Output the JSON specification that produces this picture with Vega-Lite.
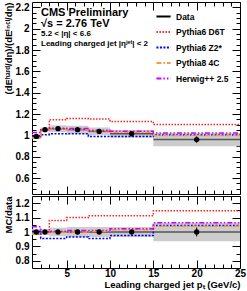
{
  "$schema": "https://vega.github.io/schema/vega-lite/v6.json",
  "background": "white",
  "padding": {"left": 2, "top": 1, "right": 5, "bottom": 1},
  "spacing": 0,
  "config": {
    "view": {"stroke": "black", "strokeWidth": 1},
    "axis": {"labelFont": "Liberation Sans", "titleFont": "Liberation Sans", "labelFontWeight": "bold", "titleFontWeight": "bold", "labelColor": "black", "titleColor": "black", "tickColor": "black", "grid": false, "labelFontSize": 10, "titleFontSize": 9.5, "domain": false, "tickWidth": 1, "labelOverlap": false, "labelFlush": false, "labelBound": false}
  },
  "datasets": {
    "bins": [
      {"lo": 1, "hi": 2, "x": 1.5, "y": 0.99, "errLo": 0.982, "errHi": 0.998, "bandLo": 0.970, "bandHi": 1.010, "ry": 1, "rErrLo": 0.992, "rErrHi": 1.008, "rBandLo": 0.98, "rBandHi": 1.02},
      {"lo": 2, "hi": 3, "x": 2.5, "y": 1.053, "errLo": 1.045, "errHi": 1.061, "bandLo": 1.032, "bandHi": 1.074, "ry": 1, "rErrLo": 0.992, "rErrHi": 1.008, "rBandLo": 0.98, "rBandHi": 1.02},
      {"lo": 3, "hi": 5, "x": 4, "y": 1.062, "errLo": 1.054, "errHi": 1.070, "bandLo": 1.030, "bandHi": 1.094, "ry": 1, "rErrLo": 0.992, "rErrHi": 1.008, "rBandLo": 0.97, "rBandHi": 1.03},
      {"lo": 5, "hi": 7.5, "x": 6.25, "y": 1.053, "errLo": 1.045, "errHi": 1.061, "bandLo": 1.016, "bandHi": 1.090, "ry": 1, "rErrLo": 0.992, "rErrHi": 1.008, "rBandLo": 0.965, "rBandHi": 1.035},
      {"lo": 7.5, "hi": 10, "x": 8.75, "y": 1.037, "errLo": 1.027, "errHi": 1.047, "bandLo": 1.001, "bandHi": 1.073, "ry": 1, "rErrLo": 0.99, "rErrHi": 1.01, "rBandLo": 0.965, "rBandHi": 1.035},
      {"lo": 10, "hi": 15, "x": 12.5, "y": 1.015, "errLo": 1.003, "errHi": 1.027, "bandLo": 0.979, "bandHi": 1.051, "ry": 1, "rErrLo": 0.988, "rErrHi": 1.012, "rBandLo": 0.965, "rBandHi": 1.035},
      {"lo": 15, "hi": 25, "x": 20, "y": 0.96, "errLo": 0.93, "errHi": 0.99, "bandLo": 0.898, "bandHi": 1.022, "ry": 1, "rErrLo": 0.969, "rErrHi": 1.031, "rBandLo": 0.935, "rBandHi": 1.065}
    ],
    "mc": [
      {"series": "Pythia6 D6T", "x": 1, "top": 0.975, "ratio": 0.985},
      {"series": "Pythia6 D6T", "x": 2, "top": 1.053, "ratio": 1.0},
      {"series": "Pythia6 D6T", "x": 3, "top": 1.147, "ratio": 1.08},
      {"series": "Pythia6 D6T", "x": 5, "top": 1.158, "ratio": 1.10},
      {"series": "Pythia6 D6T", "x": 7.5, "top": 1.154, "ratio": 1.113},
      {"series": "Pythia6 D6T", "x": 10, "top": 1.130, "ratio": 1.113},
      {"series": "Pythia6 D6T", "x": 15, "top": 1.102, "ratio": 1.148},
      {"series": "Pythia6 D6T", "x": 25, "top": 1.102, "ratio": 1.148},
      {"series": "Pythia6 Z2*", "x": 1, "top": 0.995, "ratio": 1.005},
      {"series": "Pythia6 Z2*", "x": 2, "top": 1.006, "ratio": 0.955},
      {"series": "Pythia6 Z2*", "x": 3, "top": 1.014, "ratio": 0.955},
      {"series": "Pythia6 Z2*", "x": 5, "top": 1.016, "ratio": 0.965},
      {"series": "Pythia6 Z2*", "x": 7.5, "top": 0.990, "ratio": 0.955},
      {"series": "Pythia6 Z2*", "x": 10, "top": 0.990, "ratio": 0.975},
      {"series": "Pythia6 Z2*", "x": 15, "top": 1.003, "ratio": 1.045},
      {"series": "Pythia6 Z2*", "x": 25, "top": 1.003, "ratio": 1.045},
      {"series": "Pythia8 4C", "x": 1, "top": 0.975, "ratio": 0.985},
      {"series": "Pythia8 4C", "x": 2, "top": 1.048, "ratio": 0.995},
      {"series": "Pythia8 4C", "x": 3, "top": 1.062, "ratio": 1.0},
      {"series": "Pythia8 4C", "x": 5, "top": 1.053, "ratio": 1.0},
      {"series": "Pythia8 4C", "x": 7.5, "top": 1.042, "ratio": 1.005},
      {"series": "Pythia8 4C", "x": 10, "top": 1.030, "ratio": 1.015},
      {"series": "Pythia8 4C", "x": 15, "top": 0.998, "ratio": 1.04},
      {"series": "Pythia8 4C", "x": 25, "top": 0.998, "ratio": 1.04},
      {"series": "Herwig++ 2.5", "x": 1, "top": 1.027, "ratio": 1.037},
      {"series": "Herwig++ 2.5", "x": 2, "top": 1.053, "ratio": 1.0},
      {"series": "Herwig++ 2.5", "x": 3, "top": 1.067, "ratio": 1.005},
      {"series": "Herwig++ 2.5", "x": 5, "top": 1.064, "ratio": 1.01},
      {"series": "Herwig++ 2.5", "x": 7.5, "top": 1.047, "ratio": 1.01},
      {"series": "Herwig++ 2.5", "x": 10, "top": 1.038, "ratio": 1.023},
      {"series": "Herwig++ 2.5", "x": 15, "top": 1.022, "ratio": 1.065},
      {"series": "Herwig++ 2.5", "x": 25, "top": 1.022, "ratio": 1.065}
    ]
  },
  "resolve": {"scale": {"x": "independent", "y": "independent", "color": "shared", "strokeDash": "shared"}},
  "vconcat": [
    {
      "width": 208,
      "height": 192,
      "title": {"text": ["CMS Preliminary", "√s = 2.76 TeV"], "subtitle": ["5.2 < |η| < 6.6", "Leading charged jet |ηʲᵉᵗ| < 2"], "anchor": "start", "frame": "group", "orient": "top", "offset": -46, "dx": 9, "font": "Liberation Sans", "fontSize": 11, "fontWeight": "bold", "lineHeight": 11, "color": "black", "subtitleFont": "Liberation Sans", "subtitleFontSize": 8, "subtitleFontWeight": "bold", "subtitleLineHeight": 9.5, "subtitlePadding": 1, "subtitleColor": "black"},
      "resolve": {"axis": {"x": "independent", "y": "independent"}},
      "layer": [
        {
          "data": {"name": "bins"},
          "mark": {"type": "rect", "color": "#cccccc"},
          "encoding": {
            "x": {"field": "lo", "type": "quantitative", "scale": {"domain": [1, 25], "nice": false, "zero": false},
              "axis": {"orient": "bottom", "values": [5, 10, 15, 20, 25], "labels": false, "title": null, "tickSize": -8}},
            "x2": {"field": "hi"},
            "y": {"field": "bandLo", "type": "quantitative", "scale": {"domain": [0.45, 2.25], "nice": false, "zero": false},
              "axis": {"orient": "left", "values": [0.6, 0.8, 1, 1.2, 1.4, 1.6, 1.8, 2, 2.2], "format": "~g", "tickSize": -8, "labelPadding": 11, "title": "(dEʰᵃʳᵈ/dη)/(dEⁱⁿᶜˡ/dη)", "titleAnchor": "end", "titlePadding": 2}},
            "y2": {"field": "bandHi"}
          }
        },
        {
          "data": {"name": "bins"},
          "mark": {"type": "rule", "color": "#555555", "strokeWidth": 1.5},
          "encoding": {
            "x": {"field": "lo", "type": "quantitative",
              "axis": {"orient": "top", "values": [5, 10, 15, 20, 25], "labels": false, "title": null, "tickSize": -8}},
            "x2": {"field": "hi"},
            "y": {"field": "y", "type": "quantitative",
              "axis": {"orient": "right", "values": [0.6, 0.8, 1, 1.2, 1.4, 1.6, 1.8, 2, 2.2], "labels": false, "title": null, "tickSize": -8}}
          }
        },
        {
          "data": {"name": "mc"},
          "mark": {"type": "line", "interpolate": "step-after", "strokeWidth": 1.5},
          "encoding": {
            "x": {"field": "x", "type": "quantitative",
              "axis": {"orient": "bottom", "values": [2,3,4,6,7,8,9,11,12,13,14,16,17,18,19,21,22,23,24], "labels": false, "title": null, "tickSize": -4}},
            "y": {"field": "top", "type": "quantitative",
              "axis": {"orient": "left", "values": [0.5,0.55,0.65,0.7,0.75,0.85,0.9,0.95,1.05,1.1,1.15,1.25,1.3,1.35,1.45,1.5,1.55,1.65,1.7,1.75,1.85,1.9,1.95,2.05,2.1,2.15], "labels": false, "title": null, "tickSize": -4}},
            "color": {"field": "series", "type": "nominal", "scale": {"domain": ["Data", "Pythia6 D6T", "Pythia6 Z2*", "Pythia8 4C", "Herwig++ 2.5"], "range": ["black", "#ff2020", "#0000ff", "#ff9933", "#cc00ff"]},
              "legend": {"orient": "none", "legendX": 123, "legendY": 6, "title": null, "symbolType": "stroke", "symbolStrokeWidth": 2, "symbolSize": 200, "labelFont": "Liberation Sans", "labelFontSize": 8.5, "labelFontWeight": "bold", "labelColor": "black", "rowPadding": 2.5, "labelOffset": 4}},
            "strokeDash": {"field": "series", "type": "nominal", "scale": {"domain": ["Data", "Pythia6 D6T", "Pythia6 Z2*", "Pythia8 4C", "Herwig++ 2.5"], "range": [[1, 0], [1.5, 1.5], [2, 1.5], [5, 2, 1.5, 2], [5, 2, 1.5, 2, 1.5, 2]]},
              "legend": {"orient": "none", "legendX": 123, "legendY": 6, "title": null, "symbolType": "stroke", "symbolStrokeWidth": 2, "symbolSize": 200, "labelFont": "Liberation Sans", "labelFontSize": 8.5, "labelFontWeight": "bold", "labelColor": "black", "rowPadding": 2.5, "labelOffset": 4}}
          }
        },
        {
          "data": {"name": "bins"},
          "mark": {"type": "rule", "color": "black", "strokeWidth": 1},
          "encoding": {
            "x": {"field": "x", "type": "quantitative",
              "axis": {"orient": "top", "values": [2,3,4,6,7,8,9,11,12,13,14,16,17,18,19,21,22,23,24], "labels": false, "title": null, "tickSize": -4}},
            "y": {"field": "errLo", "type": "quantitative",
              "axis": {"orient": "right", "values": [0.5,0.55,0.65,0.7,0.75,0.85,0.9,0.95,1.05,1.1,1.15,1.25,1.3,1.35,1.45,1.5,1.55,1.65,1.7,1.75,1.85,1.9,1.95,2.05,2.1,2.15], "labels": false, "title": null, "tickSize": -4}},
            "y2": {"field": "errHi"}
          }
        },
        {
          "data": {"name": "bins"},
          "mark": {"type": "point", "filled": true, "shape": "circle", "color": "black", "opacity": 1, "size": 28},
          "encoding": {
            "x": {"field": "x", "type": "quantitative", "axis": null},
            "y": {"field": "y", "type": "quantitative", "axis": null}
          }
        }
      ]
    },
    {
      "width": 208,
      "height": 72,
      "resolve": {"axis": {"x": "independent", "y": "independent"}},
      "layer": [
        {
          "data": {"name": "bins"},
          "mark": {"type": "rect", "color": "#cccccc"},
          "encoding": {
            "x": {"field": "lo", "type": "quantitative", "scale": {"domain": [1, 25], "nice": false, "zero": false},
              "axis": {"orient": "bottom", "values": [5, 10, 15, 20, 25], "labelPadding": 8, "title": "Leading charged jet pₜ (GeV/c)", "titleAnchor": "end", "titlePadding": 1, "tickSize": -8}},
            "x2": {"field": "hi"},
            "y": {"field": "rBandLo", "type": "quantitative", "scale": {"domain": [0.75, 1.25], "nice": false, "zero": false},
              "axis": {"orient": "left", "values": [0.8, 0.9, 1, 1.1, 1.2], "format": "~g", "tickSize": -8, "labelPadding": 11, "title": "MC/data", "titleAnchor": "end", "titlePadding": 2}},
            "y2": {"field": "rBandHi"}
          }
        },
        {
          "data": {"name": "bins"},
          "mark": {"type": "rule", "color": "#555555", "strokeWidth": 1.5},
          "encoding": {
            "x": {"field": "lo", "type": "quantitative",
              "axis": {"orient": "top", "values": [5, 10, 15, 20, 25], "labels": false, "title": null, "tickSize": -8}},
            "x2": {"field": "hi"},
            "y": {"field": "ry", "type": "quantitative",
              "axis": {"orient": "right", "values": [0.8, 0.9, 1, 1.1, 1.2], "labels": false, "title": null, "tickSize": -8}}
          }
        },
        {
          "data": {"name": "mc"},
          "mark": {"type": "line", "interpolate": "step-after", "strokeWidth": 1.5},
          "encoding": {
            "x": {"field": "x", "type": "quantitative",
              "axis": {"orient": "bottom", "values": [2,3,4,6,7,8,9,11,12,13,14,16,17,18,19,21,22,23,24], "labels": false, "title": null, "tickSize": -4}},
            "y": {"field": "ratio", "type": "quantitative",
              "axis": {"orient": "left", "values": [0.85, 0.95, 1.05, 1.15], "labels": false, "title": null, "tickSize": -4}},
            "color": {"field": "series", "type": "nominal",
              "legend": {"orient": "none", "legendX": 123, "legendY": 6, "title": null, "symbolType": "stroke", "symbolStrokeWidth": 2, "symbolSize": 200, "labelFont": "Liberation Sans", "labelFontSize": 8.5, "labelFontWeight": "bold", "labelColor": "black", "rowPadding": 2.5, "labelOffset": 4}},
            "strokeDash": {"field": "series", "type": "nominal",
              "legend": {"orient": "none", "legendX": 123, "legendY": 6, "title": null, "symbolType": "stroke", "symbolStrokeWidth": 2, "symbolSize": 200, "labelFont": "Liberation Sans", "labelFontSize": 8.5, "labelFontWeight": "bold", "labelColor": "black", "rowPadding": 2.5, "labelOffset": 4}}
          }
        },
        {
          "data": {"name": "bins"},
          "mark": {"type": "rule", "color": "black", "strokeWidth": 1},
          "encoding": {
            "x": {"field": "x", "type": "quantitative",
              "axis": {"orient": "top", "values": [2,3,4,6,7,8,9,11,12,13,14,16,17,18,19,21,22,23,24], "labels": false, "title": null, "tickSize": -4}},
            "y": {"field": "rErrLo", "type": "quantitative",
              "axis": {"orient": "right", "values": [0.85, 0.95, 1.05, 1.15], "labels": false, "title": null, "tickSize": -4}},
            "y2": {"field": "rErrHi"}
          }
        },
        {
          "data": {"name": "bins"},
          "mark": {"type": "point", "filled": true, "shape": "circle", "color": "black", "opacity": 1, "size": 28},
          "encoding": {
            "x": {"field": "x", "type": "quantitative", "axis": null},
            "y": {"field": "ry", "type": "quantitative", "axis": null}
          }
        }
      ]
    }
  ]
}
